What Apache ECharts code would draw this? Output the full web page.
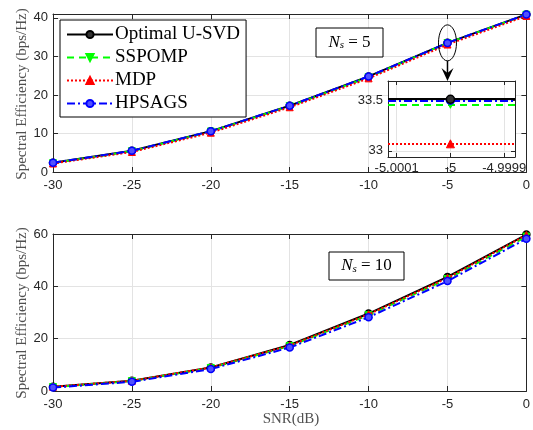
<!DOCTYPE html>
<html><head><meta charset="utf-8">
<script src="https://cdn.jsdelivr.net/npm/echarts@6/dist/echarts.min.js"></script>
<style>html,body{margin:0;padding:0;background:#fff}#c{width:533px;height:430px}</style>
</head><body><div id="c"></div>
<script>
const snr = [-30, -25, -20, -15, -10, -5, 0];
const seriesNames = ['Optimal U-SVD', 'SSPOMP', 'MDP', 'HPSAGS'];
const yTitle = 'Spectral Efficiency (bps/Hz)';
const xTitle = 'SNR(dB)';
// Ns = 5
const ns5Optimal = [2.4, 5.5, 10.6, 17.2, 24.8, 33.51, 40.9];
const ns5SSPOMP  = [2.3, 5.4, 10.5, 17.1, 24.6, 33.46, 40.8];
const ns5MDP     = [2.2, 5.2, 10.2, 16.8, 24.3, 33.07, 40.5];
const ns5HPSAGS  = [2.4, 5.5, 10.6, 17.2, 24.8, 33.50, 40.9];
// Ns = 10
const ns10Optimal = [1.6, 3.9, 9.0, 17.6, 29.6, 43.6, 59.8];
const ns10SSPOMP  = [1.5, 3.8, 8.8, 17.2, 29.0, 42.8, 59.0];
const ns10MDP     = [1.6, 3.9, 9.0, 17.4, 29.3, 43.2, 59.6];
const ns10HPSAGS  = [1.3, 3.5, 8.4, 16.6, 28.2, 42.0, 58.2];
// zoomed inset around SNR = -5 dB (Ns = 5)
const insetSnr = -5;
const insetXTicks = [-5.0001, -5, -4.9999];
const insetXLabels = ['-5.0001', '-5', '-4.9999'];
const insetYTicks = [33, 33.5];

const styles = [
  {color:'#000000', line:{type:'solid', width:2}, symbol:'circle', rot:0, item:{color:'#333', borderColor:'#000', borderWidth:1.5}},
  {color:'#00ff00', line:{type:[7,5], width:2}, symbol:'triangle', rot:180, item:{color:'#00ff00', borderColor:'#00ff00', borderWidth:1}},
  {color:'#ff0000', line:{type:[2,2], width:2}, symbol:'triangle', rot:0, item:{color:'#ff0000', borderColor:'#ff0000', borderWidth:1}},
  {color:'#0000ff', line:{type:[8,3,2,3], width:2}, symbol:'circle', rot:0, item:{color:'#5050ff', borderColor:'#0000ff', borderWidth:1.5}}
];
const ns5 = [ns5Optimal, ns5SSPOMP, ns5MDP, ns5HPSAGS];
const ns10 = [ns10Optimal, ns10SSPOMP, ns10MDP, ns10HPSAGS];

const axisCol = '#262626';
const lblFont = {fontFamily:'Liberation Sans', fontSize:13, color:axisCol};
function xAx(grid, pos, opts) {
  return Object.assign({
    type:'value', gridIndex:grid, position:pos, min:-30, max:0, interval:5,
    axisLine:{onZero:false, lineStyle:{color:axisCol, width:1}},
    axisTick:{show:true, inside:true, length:5, lineStyle:{color:axisCol}},
    axisLabel:Object.assign({show:pos==='bottom', margin:7}, lblFont),
    splitLine:{show:pos==='bottom', lineStyle:{color:'#e3e3e3', width:1}}
  }, opts||{});
}
function yAx(grid, pos, opts) {
  return Object.assign({
    type:'value', gridIndex:grid, position:pos,
    axisLine:{show:true, onZero:false, lineStyle:{color:axisCol, width:1}},
    axisTick:{show:true, inside:true, length:5, lineStyle:{color:axisCol}},
    axisLabel:Object.assign({show:pos==='left', margin:5}, lblFont),
    splitLine:{show:pos==='left', lineStyle:{color:'#e3e3e3', width:1}}
  }, opts||{});
}

const series = [];
function addSeries(data, xi, yi, withName, size, z) {
  data.forEach((arr, k) => {
    const s = styles[k];
    series.push({
      type:'line', name: withName ? seriesNames[k] : undefined,
      xAxisIndex:xi, yAxisIndex:yi,
      data: snr.map((x, i) => [x, arr[i]]),
      symbol:s.symbol, symbolRotate:s.rot, symbolSize:size,
      lineStyle:Object.assign({color:s.color}, s.line),
      itemStyle:s.item, color:s.color,
      clip:true, animation:false, z: z + k
    });
  });
}
addSeries(ns5, 0, 0, true, 7, 2);
addSeries(ns10, 2, 2, false, 7, 2);
// inset: the curves are flat at this zoom, drawn as horizontal lines at the value at -5 dB
ns5.forEach((arr, k) => {
  const s = styles[k];
  const idx = snr.indexOf(insetSnr);
  series.push({
    type:'line', xAxisIndex:4, yAxisIndex:4,
    data:[[insetSnr, arr[idx]]],
    symbol:s.symbol, symbolRotate:s.rot, symbolSize:8,
    itemStyle:s.item, color:s.color, lineStyle:{width:0},
    clip:true, animation:false, z: k === 0 ? 20 : 16 + k,
    markLine:{
      silent:true, symbol:'none', animation:false, label:{show:false}, z: k === 0 ? 15 : 12 + k,
      lineStyle:Object.assign({color:s.color}, s.line),
      emphasis:{disabled:true},
      data:[{yAxis:arr[idx]}]
    }
  });
});

const option = {
  animation:false,
  backgroundColor:'#fff',
  grid:[
    {left:53, top:14, width:477, height:158},
    {left:53, top:234, width:477, height:157},
    {left:388, top:81, width:127, height:76, show:true, backgroundColor:'#fff', borderWidth:0, z:10}
  ],
  xAxis:[
    xAx(0,'bottom'), xAx(0,'top'),
    xAx(1,'bottom'),
    xAx(1,'top'),
    xAx(2,'bottom',{min:-5.000116, max:-4.99988, interval:null, z:11,
      axisTick:{show:true, inside:true, length:4, customValues:insetXTicks, lineStyle:{color:axisCol}},
      axisLabel:Object.assign({show:true, margin:5, customValues:insetXTicks,
        formatter:(v)=>{const i=insetXTicks.findIndex(t=>Math.abs(t-v)<1e-9);return i>=0?insetXLabels[i]:'';}}, lblFont),
      splitLine:{show:true, lineStyle:{color:'#e3e3e3'}}}),
    xAx(2,'top',{min:-5.000116, max:-4.99988, interval:null, z:11,
      axisTick:{show:true, inside:true, length:4, customValues:insetXTicks, lineStyle:{color:axisCol}}})
  ],
  yAxis:[
    yAx(0,'left', {min:0, max:41, interval:10,
      axisLabel:Object.assign({show:true, margin:5, showMaxLabel:false}, lblFont)}),
    yAx(0,'right',{min:0, max:41, interval:10}),
    yAx(1,'left', {min:0, max:60, interval:20}),
    yAx(1,'right',{min:0, max:60, interval:20}),
    yAx(2,'left',{min:32.94, max:33.69, interval:null, z:11,
      axisTick:{show:true, inside:true, length:4, customValues:insetYTicks, lineStyle:{color:axisCol}},
      axisLabel:Object.assign({show:true, margin:5, customValues:insetYTicks}, lblFont),
      splitLine:{show:true, lineStyle:{color:'#e3e3e3'}}}),
    yAx(2,'right',{min:32.94, max:33.69, interval:null, z:11,
      axisTick:{show:true, inside:true, length:4, customValues:insetYTicks, lineStyle:{color:axisCol}}})
  ],
  legend:{
    data:seriesNames, orient:'vertical', left:60, top:20,
    backgroundColor:'#fff', borderColor:'#000', borderWidth:1,
    padding:[5,6,4,6], itemGap:4, itemWidth:46, itemHeight:9,
    textStyle:{fontFamily:'Liberation Serif', fontSize:19, color:'#000', padding:[0,0,0,-3]},
    z:20
  },
  series:series
};
const chart = echarts.init(document.getElementById('c'), null, {renderer:'canvas'});
chart.setOption(option);

const p = chart.convertToPixel({xAxisIndex:0, yAxisIndex:0}, [insetSnr, ns5Optimal[snr.indexOf(insetSnr)]]);
const insetTop = 81;
function nsBox(x, y, w, h, val) {
  return {type:'group', x:x, y:y, z:30, children:[
    {type:'rect', shape:{x:0, y:0, width:w, height:h}, style:{fill:'#fff', stroke:'#000', lineWidth:1}},
    {type:'text', x:w/2, y:h/2, style:{
      text:'{n|N}{s|s}{e| = ' + val + '}', align:'center', verticalAlign:'middle',
      rich:{
        n:{fontFamily:'Liberation Serif', fontStyle:'italic', fontSize:17, fill:'#000'},
        s:{fontFamily:'Liberation Serif', fontStyle:'italic', fontSize:11, fill:'#000', verticalAlign:'bottom', padding:[6,0,0,0]},
        e:{fontFamily:'Liberation Serif', fontSize:17, fill:'#000'}
      }}}
  ]};
}
const titleStyle = {fontFamily:'Liberation Serif', fontSize:15, fill:'#505050', align:'center', verticalAlign:'middle'};
chart.setOption({graphic:[
  {type:'ellipse', shape:{cx:p[0], cy:p[1], rx:9, ry:18}, style:{fill:'none', stroke:'#000', lineWidth:1}, z:30},
  {type:'line', shape:{x1:p[0], y1:p[1]+18, x2:p[0], y2:insetTop-6}, style:{stroke:'#000', lineWidth:1.5}, z:30},
  {type:'polygon', shape:{points:[[p[0], insetTop], [p[0]-6, insetTop-13], [p[0], insetTop-8], [p[0]+6, insetTop-13]]}, style:{fill:'#000'}, z:30},
  nsBox(316, 28, 67, 29, 5),
  nsBox(329, 252, 75, 28, 10),
  {type:'text', x:22, y:94, rotation:Math.PI/2, style:Object.assign({text:yTitle}, titleStyle)},
  {type:'text', x:22, y:313, rotation:Math.PI/2, style:Object.assign({text:yTitle}, titleStyle)},
  {type:'text', x:291, y:419, style:Object.assign({text:xTitle}, titleStyle)}
]});
</script></body></html>
